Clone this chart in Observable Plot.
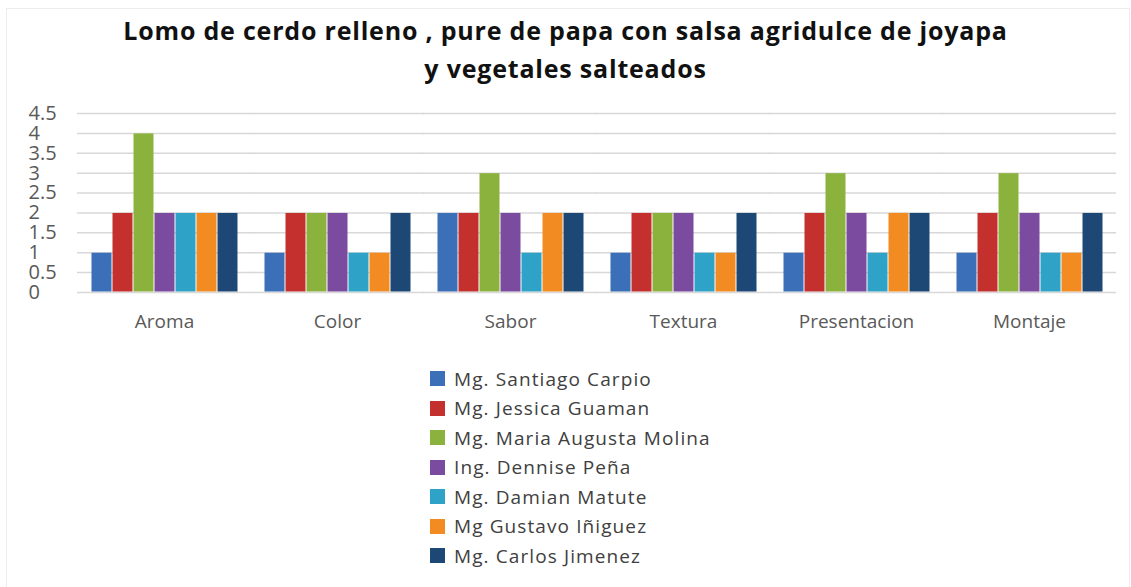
<!DOCTYPE html>
<html><head><meta charset="utf-8">
<script src="https://cdn.jsdelivr.net/npm/d3@7"></script>
<script src="https://cdn.jsdelivr.net/npm/@observablehq/plot@0.6"></script>
<style>
body{margin:0;background:#fff;font-family:"Open Sans",sans-serif;}
#wrap{position:relative;width:1131px;height:587px;overflow:hidden;background:#fff;}
#frame{position:absolute;left:6px;top:8px;width:1122px;height:620px;border:1px solid #ededed;}
#title{position:absolute;left:0;top:11px;width:1131px;text-align:center;font-weight:bold;font-size:25px;letter-spacing:0.8px;line-height:38px;color:#111;}
#chart{position:absolute;left:0;top:100px;}
#legend{position:absolute;left:430px;top:364px;}
.item{height:29.5px;display:flex;align-items:center;font-size:19px;letter-spacing:1.1px;color:#404040;}
.sw{width:15px;height:15px;margin-right:9px;flex:none;}
</style></head><body>
<div id="wrap">
<div id="frame"></div>
<div id="title">Lomo de cerdo relleno , pure de papa con salsa agridulce de joyapa<br>y vegetales salteados</div>
<div id="chart"></div>
<div id="legend"></div>
</div>
<script>
const categories = ["Aroma", "Color", "Sabor", "Textura", "Presentacion", "Montaje"];
const judges = ["Mg. Santiago Carpio", "Mg. Jessica Guaman", "Mg. Maria Augusta Molina", "Ing. Dennise Peña", "Mg. Damian Matute", "Mg Gustavo Iñiguez", "Mg. Carlos Jimenez"];
const santiagoCarpio = [1, 1, 2, 1, 1, 1];
const jessicaGuaman = [2, 2, 2, 2, 2, 2];
const mariaAugustaMolina = [4, 2, 3, 2, 3, 3];
const dennisePena = [2, 2, 2, 2, 2, 2];
const damianMatute = [2, 1, 1, 1, 1, 1];
const gustavoIniguez = [2, 1, 2, 1, 2, 1];
const carlosJimenez = [2, 2, 2, 2, 2, 2];
const yTicks = [0, 0.5, 1, 1.5, 2, 2.5, 3, 3.5, 4, 4.5];
const colors = ["#3b6fb8", "#c4302e", "#8bb23d", "#7a4b9e", "#2fa3c7", "#f28b22", "#1d4876"];

const series = [santiagoCarpio, jessicaGuaman, mariaAugustaMolina, dennisePena, damianMatute, gustavoIniguez, carlosJimenez];
const rows = [];
categories.forEach((c, i) => series.forEach((s, j) => rows.push({category: c, judge: judges[j], value: s[i]})));

const plot = Plot.plot({
  width: 1131, height: 245,
  marginTop: 13, marginBottom: 53, marginLeft: 77, marginRight: 14,
  style: {fontFamily: "'Open Sans', sans-serif", background: "transparent"},
  fx: {domain: categories, paddingInner: 0.12, paddingOuter: 0.06, label: null},
  x: {domain: judges, padding: 0, axis: null},
  y: {domain: [0, 4.5], label: null, axis: null},
  color: {domain: judges, range: colors},
  marks: [
    Plot.ruleY(yTicks, {stroke: "#d8d8d8", strokeWidth: 1.5, insetLeft: -11, insetRight: -11}),
    Plot.barY(rows, {fx: "category", x: "judge", y: "value", fill: "judge", inset: 0.5}),
    Plot.axisY(yTicks, {tickSize: 0, textAnchor: "start", dx: -51, fontSize: 20, fill: "#595959", tickFormat: d => String(d), label: null}),
    Plot.axisFx({anchor: "bottom", tickSize: 0, tickPadding: 22, fontSize: 19, letterSpacing: 1, fill: "#595959", label: null})
  ]
});
document.getElementById("chart").appendChild(plot);

const leg = document.getElementById("legend");
judges.forEach((j, i) => {
  const d = document.createElement("div");
  d.className = "item";
  d.innerHTML = `<span class="sw" style="background:${colors[i]}"></span><span>${j}</span>`;
  leg.appendChild(d);
});
</script>
</body></html>
